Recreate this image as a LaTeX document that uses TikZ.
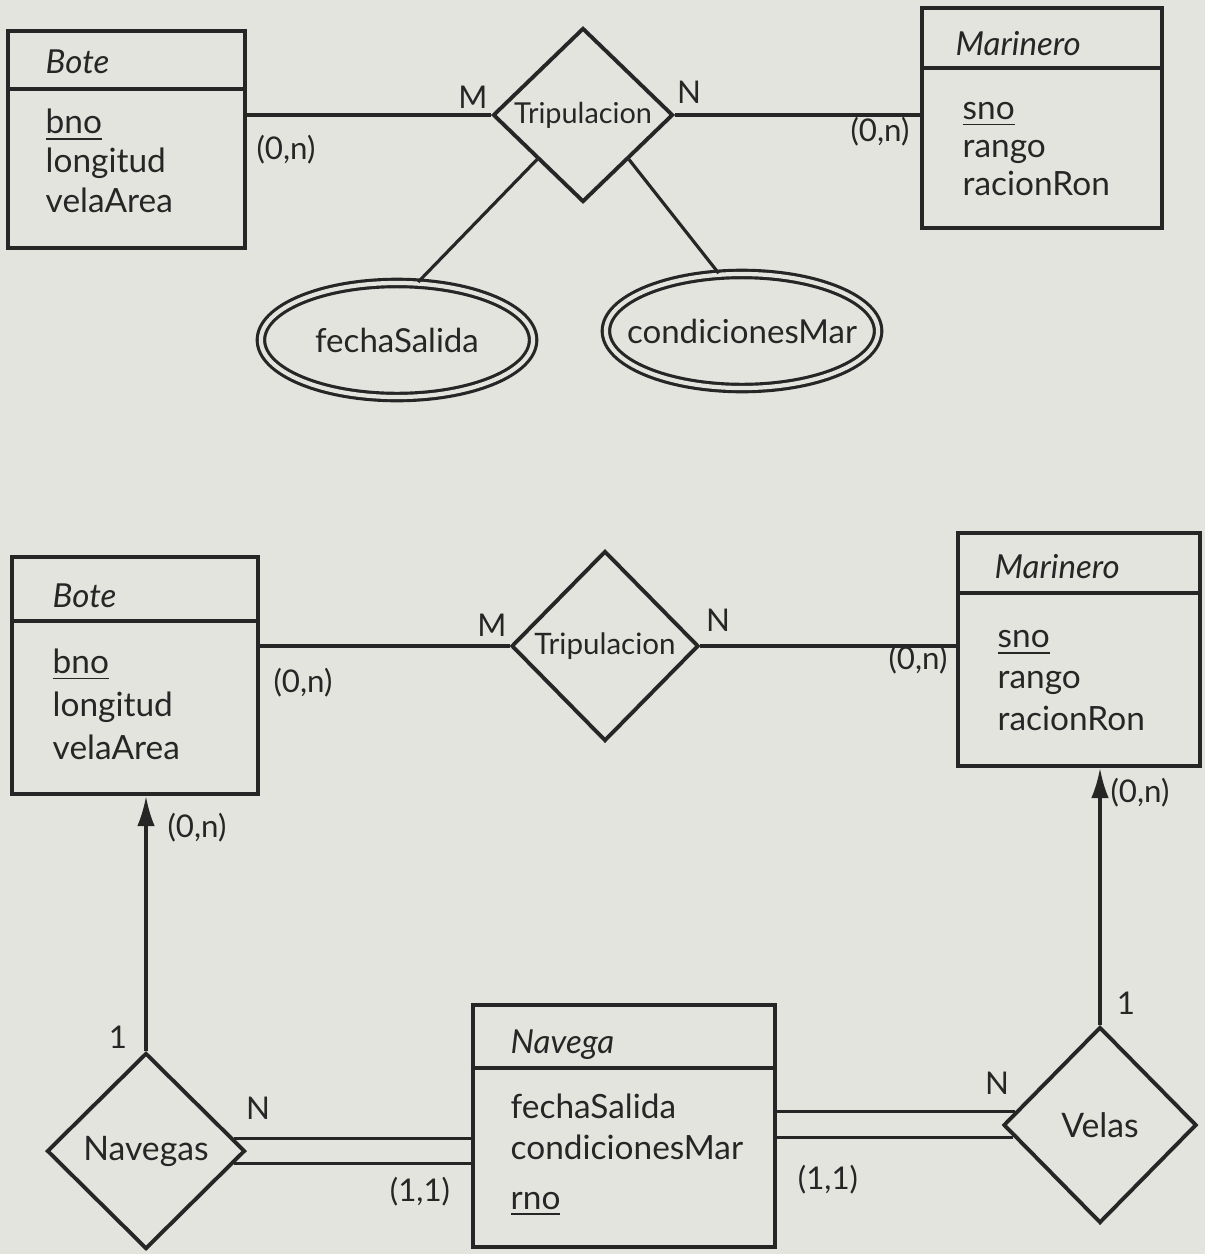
\documentclass[tikz,border=0pt]{standalone}
\usepackage{fontspec}
\setmainfont{Lato}
\usepackage{xcolor}
\usepackage{tikz}
\usetikzlibrary{shapes.geometric}
\usetikzlibrary{positioning}
\usetikzlibrary{arrows.meta}
\definecolor{paper}{RGB}{228,228,223}
\definecolor{ink}{RGB}{38,38,38}

\begin{document}
\begin{tikzpicture}[
        x=0.01cm, y=-0.01cm,
        every node/.style={text=ink, inner sep=0pt},
        entity/.style={rectangle, draw=ink, line width=1.2pt},
        rel/.style={diamond, draw=ink, line width=1.1pt, font=\fontsize{9.6}{11}\selectfont},
        dattr/.style={ellipse, draw=ink, line width=0.9pt, double=paper, double distance=1.2pt, minimum width=2.72cm, minimum height=1.14cm},
        etitle/.style={anchor=base west, font=\fontsize{9.4}{11}\selectfont\itshape},
        attrs/.style={anchor=base west, align=left, font=\fontsize{9.5}{#1}\selectfont},
        card/.style={font=\fontsize{8.9}{10}\selectfont},
        conn/.style={draw=ink, line width=0.9pt},
        arrow/.style={conn, -{Latex[length=8.5pt, width=5pt]}}
    ]

        \path[fill=paper, use as bounding box] (0,0) rectangle (1205,1254);

        \node[entity, minimum width=2.37cm, minimum height=2.17cm] (bote1) at (126.5,139.5) {};
        \draw[entity] (bote1.west |- 0,89) -- (bote1.east |- 0,89);
        \node[etitle] (bote1title) at (45,73) {Bote};
        \node[attrs=11.1pt] (bote1attrs) at (45,212) {\underline{bno}\\longitud\\velaArea};

        \node[entity, minimum width=2.40cm, minimum height=2.20cm] (marinero1) at (1042,118) {};
        \draw[entity] (marinero1.west |- 0,68) -- (marinero1.east |- 0,68);
        \node[etitle] (marinero1title) at (955,55) {Marinero};
        \node[attrs=10.8pt] (marinero1attrs) at (962,195) {\underline{sno}\\rango\\racionRon};

        \node[rel, minimum width=1.80cm, minimum height=1.74cm, font=\fontsize{8.2}{10}\selectfont] (tripulacion1) at (583,115) {Tripulacion};

        \node[dattr, label={[font=\fontsize{9.4}{11}\selectfont]center:fechaSalida}] (fecha1) at (397,340) {};
        \node[dattr, label={[font=\fontsize{9.4}{11}\selectfont]center:condicionesMar}] (condiciones1) at (742,331) {};

        \draw[conn] (tripulacion1.west -| bote1.east) -- (tripulacion1.west);
        \draw[conn] (tripulacion1.east) -- (tripulacion1.east -| marinero1.west);
        \draw[conn] (tripulacion1.south west) -- (fecha1.70);
        \draw[conn] (tripulacion1.south east) -- (condiciones1.112);

        \node[card] (m1) at (473,97) {M};
        \node[card] (n1) at (689,92) {N};
        \node[card] (bote1card) at (286,150) {(0,n)};
        \node[card] (marinero1card) at (880,132) {(0,n)};

        \node[entity, minimum width=2.46cm, minimum height=2.37cm] (bote2) at (135,675.5) {};
        \draw[entity] (bote2.west |- 0,621) -- (bote2.east |- 0,621);
        \node[etitle] (bote2title) at (52,607) {Bote};
        \node[attrs=12.2pt] (bote2attrs) at (52,759) {\underline{bno}\\longitud\\velaArea};

        \node[entity, minimum width=2.42cm, minimum height=2.33cm] (marinero2) at (1079,649.5) {};
        \draw[entity] (marinero2.west |- 0,593) -- (marinero2.east |- 0,593);
        \node[etitle] (marinero2title) at (994,578) {Marinero};
        \node[attrs=11.7pt] (marinero2attrs) at (997,730) {\underline{sno}\\rango\\racionRon};

        \node[rel, minimum width=1.87cm, minimum height=1.90cm, font=\fontsize{8.4}{10}\selectfont] (tripulacion2) at (605,646) {Tripulacion};

        \node[entity, minimum width=3.02cm, minimum height=2.42cm] (navega) at (624,1126) {};
        \draw[entity] (navega.west |- 0,1068) -- (navega.east |- 0,1068);
        \node[etitle] (navegatitle) at (510,1053) {Navega};
        \node[attrs=11.6pt] (navegaattrs) at (510,1209) {fechaSalida\\condicionesMar\\[2.6pt]\underline{rno}};

        \node[rel, minimum width=1.98cm, minimum height=1.96cm] (navegas) at (146,1151) {Navegas};
        \node[rel, minimum width=1.93cm, minimum height=1.96cm] (velas) at (1100,1125) {Velas};

        \draw[conn] (tripulacion2.west -| bote2.east) -- (tripulacion2.west);
        \draw[conn] (tripulacion2.east) -- (tripulacion2.east -| marinero2.west);
        \draw[arrow] (navegas.north) -- (navegas.north |- bote2.south);
        \draw[arrow] (velas.north) -- (velas.north |- marinero2.south);
        \draw[conn] (navegas.8.5) -- (navegas.8.5 -| navega.west);
        \draw[conn] (navegas.-8.5) -- (navegas.-8.5 -| navega.west);
        \draw[conn] (velas.171.5) -- (velas.171.5 -| navega.east);
        \draw[conn] (velas.188.5) -- (velas.188.5 -| navega.east);

        \node[card] (m2) at (492,625) {M};
        \node[card] (n2) at (718,620) {N};
        \node[card] (bote2card) at (303,683) {(0,n)};
        \node[card] (marinero2card) at (918,660) {(0,n)};
        \node[card] (bote2arrowcard) at (197,828) {(0,n)};
        \node[card] (marinero2arrowcard) at (1140,793) {(0,n)};
        \node[card] (navegasone) at (118,1037) {1};
        \node[card] (velasone) at (1126,1003) {1};
        \node[card] (navegasn) at (258,1108) {N};
        \node[card] (velasn) at (997,1083) {N};
        \node[card] (navegacardl) at (420,1192) {(1,1)};
        \node[card] (navegacardr) at (828,1180) {(1,1)};
    \end{tikzpicture}
\end{document}
